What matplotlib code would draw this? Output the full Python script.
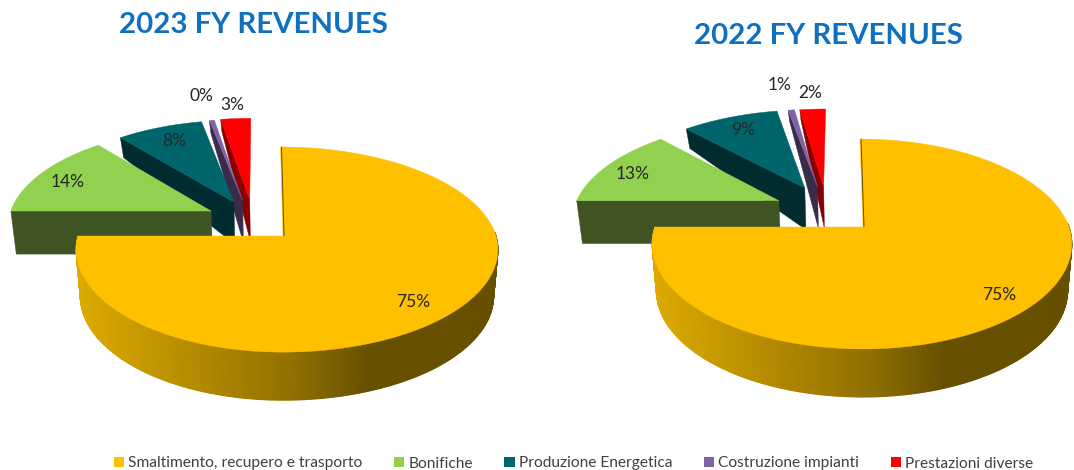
import numpy as np
import matplotlib
matplotlib.use("Agg")
import matplotlib.pyplot as plt
from matplotlib.collections import PolyCollection
from matplotlib.colors import to_rgb
from matplotlib.patches import Patch

# ---- data ----
categories = ["Smaltimento, recupero e trasporto", "Bonifiche", "Produzione Energetica",
              "Costruzione impianti", "Prestazioni diverse"]
values_2023 = [75.0, 13.9, 7.9, 0.45, 2.75]
values_2022 = [75.0, 13.0, 9.0, 0.6, 2.4]
title_2023 = "2023 FY REVENUES"
title_2022 = "2022 FY REVENUES"

# ---- styles ----
top_colors = ["#FFC000", "#92D050", "#00656A", "#8064A2", "#FF0000"]
wall_colors = ["#665000", "#3F5323", "#002C30", "#3A2B4A", "#8A0000"]
FONT = ["Lato", "DejaVu Sans"]
LABEL_COLOR = "#262626"

geom_2023 = dict(x0=283, y0=236, rx_neg=207, rx_main=205, rx_pos=213, ry=100.8, p=0.132, shear=-2.5,
                 offsets=[(0, 0), (-0.356, 0.256), (-0.244, 0.353), (-0.20, 0.37), (-0.164, 0.38)],
                 label_xy=[(413, 302), (68, 182), (174, 141), (201, 96), (232, 105)],
                 title_xy=(253, 25))
geom_2022 = dict(x0=863, y0=227, rx_neg=211, rx_main=208, rx_pos=206, ry=102.2, p=0.162, shear=-3.0,
                 offsets=[(0, 0), (-0.412, 0.269), (-0.288, 0.407), (-0.224, 0.42), (-0.193, 0.42)],
                 label_xy=[(999, 295), (633, 174), (743, 130), (780, 85), (810, 93)],
                 title_xy=(828, 36))

# wall height (pixels) against distance from the viewer along the disc
depth_v = [-1.0, 0.0, 0.26, 0.5, 1.12, 1.5]
depth_px = [48, 46, 43, 41, 20, 8]


def depth(v):
    return np.interp(v, depth_v, depth_px)


def top_point(u, v, g, main=False):
    s = 1 + g["p"] * v
    rx = np.where(u > 0, g["rx_pos"], g["rx_main"] if main else g["rx_neg"])
    return g["x0"] + rx * u / s + g["shear"] * np.maximum(v, 0), g["y0"] - g["ry"] * v / s


def bottom_point(u, v, g, main=False):
    x, y = top_point(u, v, g, main)
    return g["x0"] + (x - g["x0"]) * 0.98, y + depth(v)


def rim_color(t):
    stops = [0.0, 0.2, 0.52, 0.7, 1.0]
    dark = to_rgb("#665000")
    cols = [to_rgb("#DCAA00"), to_rgb("#C09400"), to_rgb("#8F6F00"), dark, dark]
    return [np.interp(t, stops, [c[i] for c in cols]) for i in range(3)]


def draw_pie(ax, values, g, title):
    fr = np.cumsum([0] + list(values)) / np.sum(values) * 2 * np.pi
    for i in reversed(range(len(values))):
        main = i == 0
        a = np.linspace(fr[i], fr[i + 1], max(int((fr[i + 1] - fr[i]) * 80), 4))
        ou, ov = g["offsets"][i]
        u, v = np.sin(a) + ou, np.cos(a) + ov
        tx, ty = top_point(u, v, g, main)
        bx, by = bottom_point(u, v, g, main)
        ax_, ay_ = top_point(np.array(ou), np.array(ov), g, main)
        bax, bay = bottom_point(np.array(ou), np.array(ov), g, main)
        if main:
            # curved outer wall with a light to dark sweep (front half only)
            left, right = tx.min(), tx.max()
            quads, cols = [], []
            for j in range(len(a) - 1):
                if v[j] > 0.05:
                    continue
                quads.append([(tx[j], ty[j]), (tx[j + 1], ty[j + 1]),
                              (bx[j + 1], by[j + 1]), (bx[j], by[j])])
                cols.append(rim_color((tx[j] - left) / (right - left)))
            ax.add_collection(PolyCollection(quads, facecolors=cols, edgecolors=cols, linewidths=0.8))
        else:
            # radial wall on the slice's starting edge
            ax.fill([ax_, tx[0], bx[0], bax], [ay_, ty[0], by[0], bay],
                    color=wall_colors[i], lw=0.3)
        if main:
            ax.plot([tx[0] + 1, ax_ + 1], [ty[0], ay_], color=wall_colors[0], lw=0.7,
                    solid_capstyle="butt")
        ax.fill(np.r_[ax_, tx], np.r_[ay_, ty], color=top_colors[i], lw=0.3)
    for val, (lx, ly) in zip(values, g["label_xy"]):
        ax.text(lx, ly, f"{val:.0f}%", ha="center", va="center", fontsize=12.5,
                color=LABEL_COLOR, family=FONT)
    ax.text(*g["title_xy"], title, ha="center", va="center", fontsize=21.2,
            fontweight="bold", color="#0F6FC0", family=FONT)


fig = plt.figure(figsize=(10.74, 4.70), dpi=100)
ax = fig.add_axes([0, 0, 1, 1])
ax.set_xlim(0, 1074)
ax.set_ylim(470, 0)
ax.axis("off")

draw_pie(ax, values_2023, geom_2023, title_2023)
draw_pie(ax, values_2022, geom_2022, title_2022)

handles = [Patch(facecolor=c, edgecolor="none", label=n) for c, n in zip(top_colors, categories)]
ax.legend(handles=handles, ncol=5, frameon=False, loc="center", bbox_to_anchor=(573.5, 463.5),
          bbox_transform=ax.transData, handlelength=0.65, handleheight=0.65,
          handletextpad=0.28, columnspacing=2.03, labelcolor="#404040",
          prop=dict(family=FONT, size=11.2), borderpad=0, borderaxespad=0)

fig.savefig("out.png", dpi=100)
